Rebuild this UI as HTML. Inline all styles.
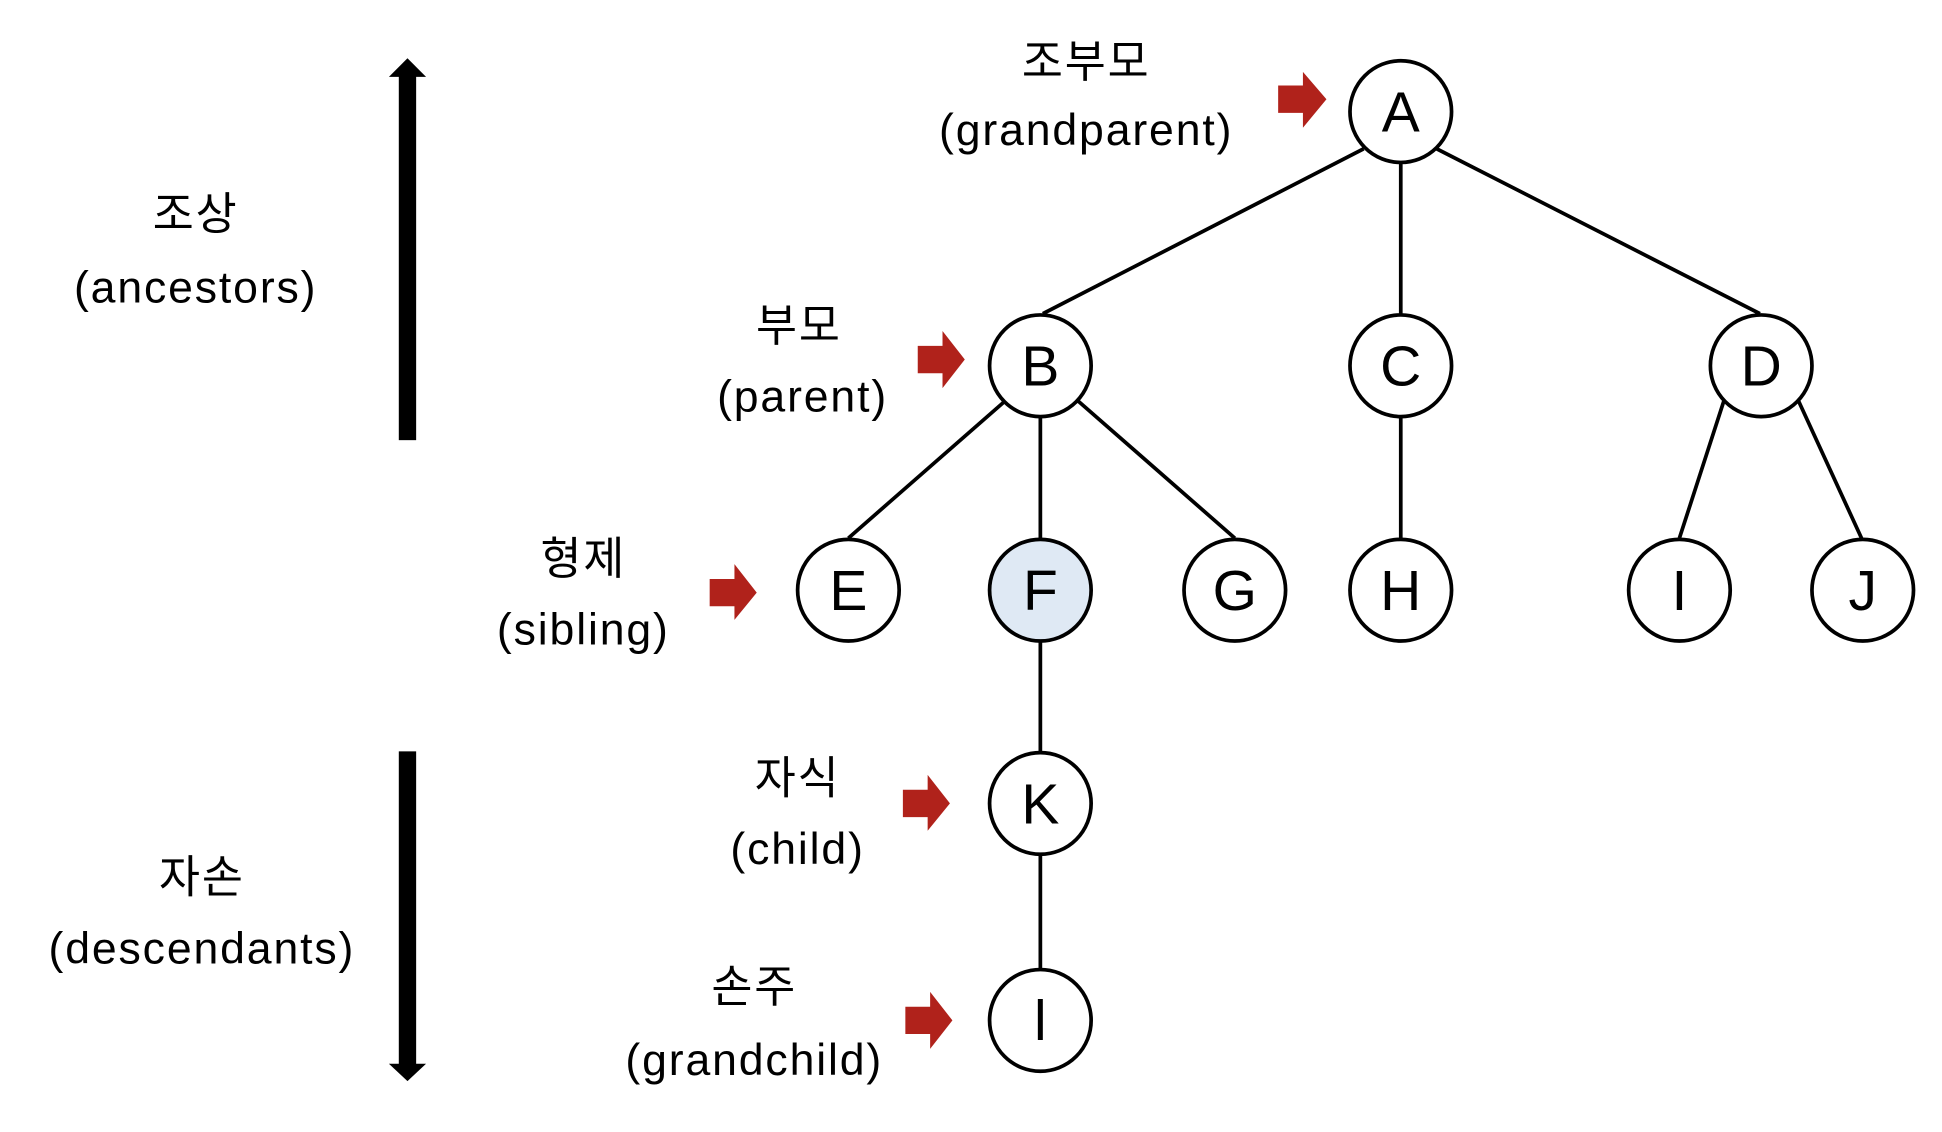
<!DOCTYPE html>
<html><head><style>html,body{margin:0;padding:0;background:#fff}svg{display:block}</style></head><body>
<svg width="1942" height="1132" viewBox="0 0 1568 913" preserveAspectRatio="none" xmlns="http://www.w3.org/2000/svg">
<g stroke="#000" stroke-width="3" fill="none">
<line x1="1101" y1="120" x2="842" y2="253"/>
<line x1="1131" y1="131" x2="1131" y2="254"/>
<line x1="1160" y1="120" x2="1421" y2="253"/>
<line x1="812" y1="323" x2="685" y2="434"/>
<line x1="840" y1="336" x2="840" y2="435"/>
<line x1="870" y1="323" x2="997" y2="434"/>
<line x1="1131" y1="336" x2="1131" y2="435"/>
<line x1="1392" y1="323" x2="1356" y2="434"/>
<line x1="1452" y1="323" x2="1503" y2="434"/>
<line x1="840" y1="517" x2="840" y2="607"/>
<line x1="840" y1="689" x2="840" y2="782"/>
</g>
<g stroke="#000" stroke-width="3" fill="#fff">
<circle cx="1131" cy="90" r="41"/>
<circle cx="840" cy="295" r="41"/>
<circle cx="1131" cy="295" r="41"/>
<circle cx="1422" cy="295" r="41"/>
<circle cx="685" cy="476" r="41"/>
<circle cx="840" cy="476" r="41" fill="#dfe9f4"/>
<circle cx="997" cy="476" r="41"/>
<circle cx="1131" cy="476" r="41"/>
<circle cx="1356" cy="476" r="41"/>
<circle cx="1504" cy="476" r="41"/>
<circle cx="840" cy="648" r="41"/>
<circle cx="840" cy="823" r="41"/>
</g>
<g font-family="Liberation Sans, DejaVu Sans, sans-serif" font-size="46" text-anchor="middle" fill="#000">
<text x="1131" y="106">A</text>
<text x="840" y="311">B</text>
<text x="1131" y="311">C</text>
<text x="1422" y="311">D</text>
<text x="685" y="492">E</text>
<text x="840" y="492">F</text>
<text x="997" y="492">G</text>
<text x="1131" y="492">H</text>
<text x="1356" y="492">I</text>
<text x="1504" y="492">J</text>
<text x="840" y="664">K</text>
<text x="840" y="839">l</text>
</g>
<g fill="#000">
<rect x="322" y="60" width="14" height="295"/>
<polygon points="314,62 329,47 344,62"/>
<rect x="322" y="606" width="14" height="254"/>
<polygon points="314,858 329,872 344,858"/>
</g>
<g fill="#b0221b">
<polygon points="1032,69 1052,69 1052,58 1071,80 1052,103 1052,91 1032,91"/>
<polygon points="741,279 761,279 761,267 779,290 761,313 761,301 741,301"/>
<polygon points="573,467 593,467 593,455 611,478 593,500 593,489 573,489"/>
<polygon points="729,637 749,637 749,625 767,648 749,670 749,659 729,659"/>
<polygon points="731,812 751,812 751,800 769,823 751,846 751,834 731,834"/>
</g>
<g font-family="Liberation Sans, Noto Sans CJK KR, sans-serif" font-size="36" text-anchor="middle" fill="#000" letter-spacing="1.5">
<text x="877" y="62">조부모</text>
<text x="877" y="117">(grandparent)</text>
<text x="158" y="185">조상</text>
<text x="158" y="244">(ancestors)</text>
<text x="645" y="275">부모</text>
<text x="648" y="332">(parent)</text>
<text x="471" y="463">형제</text>
<text x="471" y="520">(sibling)</text>
<text x="644" y="640">자식</text>
<text x="644" y="697">(child)</text>
<text x="163" y="720">자손</text>
<text x="163" y="777">(descendants)</text>
<text x="609" y="808">손주</text>
<text x="609" y="867">(grandchild)</text>
</g>
</svg>
</body></html>
